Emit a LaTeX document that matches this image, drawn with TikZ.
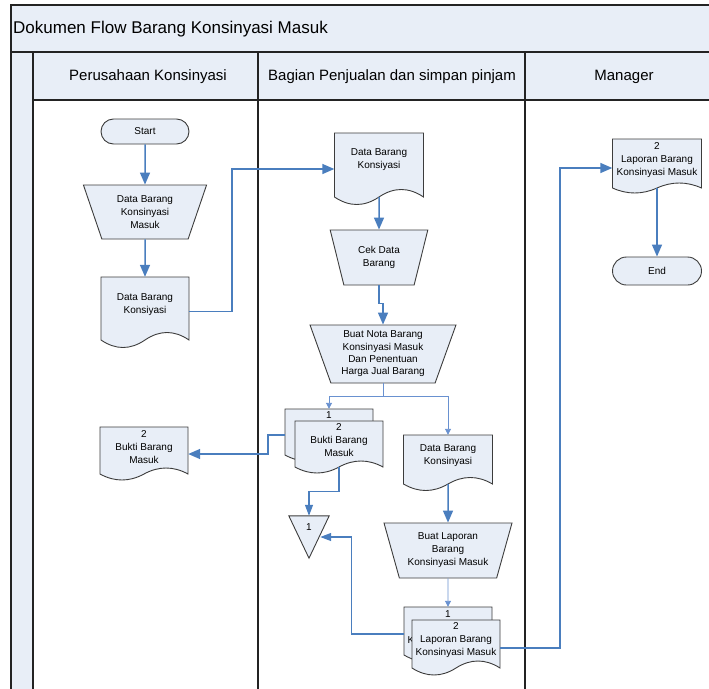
\documentclass[tikz,border=0pt]{standalone}
\usepackage{fontspec}
\setmainfont{Liberation Sans}
\usetikzlibrary{shapes.geometric,arrows.meta}

\definecolor{lanefill}{RGB}{232,238,247}
\definecolor{shapefill}{RGB}{232,238,247}
\definecolor{flowblue}{RGB}{74,126,190}
\definecolor{thinblue}{RGB}{105,145,208}
\definecolor{framegray}{RGB}{35,35,35}
\definecolor{edgegray}{RGB}{60,60,60}

\tikzset{
  frameline/.style={draw=framegray, line width=1.3pt},
  shapeedge/.style={draw=edgegray, line width=0.9pt, fill=shapefill},
  boxtext/.style={font=\fontsize{10}{13}\selectfont, align=center, inner sep=0pt},
  docbody/.style={shapeedge},
  docanchor/.style={rectangle, draw=none, fill=none, inner sep=0pt},
  doctext/.style={boxtext},
  lanehead/.style={font=\fontsize{15}{18}\selectfont, inner sep=0pt},
  terminal/.style={boxtext, shapeedge, rectangle, rounded corners=12.5pt,
    minimum width=88pt, minimum height=25pt},
  manop/.style={boxtext, shapeedge, trapezium, trapezium angle=70,
    shape border rotate=180, trapezium stretches=true},
  tri/.style={rectangle, draw=none, fill=none, inner sep=0pt,
    minimum width=40pt, minimum height=42pt},
  flow/.style={draw=flowblue, line width=1.5pt, -{Triangle[length=12pt,width=10pt]}},
  flowmid/.style={draw=flowblue, line width=1.2pt, -{Triangle[length=11pt,width=8pt]}},
  thinflow/.style={draw=thinblue, line width=0.9pt, -{Triangle[length=6pt,width=6pt]}},
}

% document symbol: flat top, wavy bottom
% #1 text lift, #2 name, #3 centre x, #4 top, #5 width, #6 height to the wave ends,
% #7 wave amplitude, #8 text
\newcommand\docshape[8][3.5]{%
  \path[docbody] ({#3-#5/2},#4) -- ({#3+#5/2},#4) -- ({#3+#5/2},{#4+#6})
    .. controls ({#3+#5/3},{#4+#6-4*#7/3}) and ({#3+#5/6},{#4+#6-4*#7/3}) .. (#3,{#4+#6})
    .. controls ({#3-#5/6},{#4+#6+4*#7/3}) and ({#3-#5/3},{#4+#6+4*#7/3}) .. ({#3-#5/2},{#4+#6})
    -- cycle;
  \node[docanchor, minimum width=#5pt, minimum height=#6pt] (#2) at (#3,{#4+#6/2}) {};
  \node[doctext] (#2-text) at ([yshift=#1pt]#2.center) {#8};
}

\begin{document}
\begin{tikzpicture}[x=1pt,y=-1pt]
\useasboundingbox (0,0) rectangle (709,688);

% swimlane frame
\begin{scope}
  \clip (0,0) rectangle (709,688);
  \fill[lanefill] (11,5) rectangle (723,52);
  \fill[lanefill] (11,52) rectangle (33,700);
  \fill[lanefill] (33,52) rectangle (723,100);
  \draw[frameline] (11,700) -- (11,5) -- (723,5);
  \draw[frameline, line width=2pt] (11,52) -- (723,52);
  \draw[frameline] (33,100) -- (723,100);
  \foreach \lx in {33,258,525} \draw[frameline] (\lx,52) -- (\lx,700);
\end{scope}

\node[font=\fontsize{17}{20}\selectfont, anchor=west, inner sep=0pt] (title) at (13,29)
  {Dokumen Flow Barang Konsinyasi Masuk};
\node[lanehead] (laneA) at (148,77) {Perusahaan Konsinyasi};
\node[lanehead] (laneB) at (392,77) {Bagian Penjualan dan simpan pinjam};
\node[lanehead] (laneC) at (624,77) {Manager};

% Perusahaan Konsinyasi
\node[terminal] (start) at (145,131.5) {Start};
\node[manop, minimum width=124pt, minimum height=54pt] (inp1) at (145,212)
  {Data Barang\\Konsinyasi\\Masuk};
\docshape{doc1}{145}{277}{88}{63}{7.5}{Data Barang\\Konsiyasi}
\docshape{bukti1}{144}{427}{88}{47}{6}{2\\Bukti Barang\\Masuk}

% Bagian Penjualan dan simpan pinjam
\docshape[5.5]{doc2}{379}{133}{89}{64}{7.5}{Data Barang\\Konsiyasi}
\node[manop, minimum width=98pt, minimum height=55pt] (cek) at (379,257.5)
  {Cek Data\\Barang};
\node[manop, minimum width=146pt, minimum height=58pt, font=\fontsize{10}{12.3}\selectfont]
  (nota) at (383,354)
  {Buat Nota Barang\\Konsinyasi Masuk\\Dan Penentuan\\Harga Jual Barang};
\docshape[17]{buktiB}{329}{409}{88}{46}{6}{1}
\docshape{buktiF}{339}{421}{88}{46}{6}{2\\Bukti Barang\\Masuk}
\node[tri] (tri1) at (309,537) {};
\path[shapeedge] (tri1.north west) -- (tri1.north east) -- (tri1.south) -- cycle;
\node[boxtext] (tri1num) at (309,527) {1};
\docshape{doc3}{448}{435}{89}{49}{6.5}{Data Barang\\Konsinyasi}
\node[manop, minimum width=128pt, minimum height=55pt] (buatlap) at (448,550.5)
  {Buat Laporan\\Barang\\Konsinyasi Masuk};
\docshape[2.5]{lapB}{448}{607}{88}{48}{6.5}{1\\Laporan Barang\\Konsinyasi Masuk}
\docshape{lapF}{456}{620}{88}{48}{7}{2\\Laporan Barang\\Konsinyasi Masuk}

% Manager
\docshape{mdoc}{657}{139}{89}{49}{5}{2\\Laporan Barang\\Konsinyasi Masuk}
\node[terminal, minimum width=89pt, minimum height=28pt, rounded corners=14pt]
  (end) at (657,271) {End};

% flow
\draw[flow] (start.south) -- (inp1.north);
\draw[flow] (inp1.south) -- (doc1.north);
\draw[flow] ([yshift=-3pt]doc1.east) -- ++(43,0) |- ([yshift=-4pt]doc2.west);
\draw[flow] (doc2.south) -- (cek.north);
\draw[flow] (cek.south) -- ++(0,18) -| (nota.north);
\draw[thinflow] (nota.south) -- ++(0,13) -| (buktiB.north);
\draw[thinflow] (nota.south) -- ++(0,13) -| (doc3.north);
\draw[flow] ([yshift=-3pt]buktiB.west) -- ++(-17,0) |- ([yshift=-3.5pt]bukti1.east);
\draw[flowmid] (buktiF.south) -- ++(0,24) -| (tri1.north);
\draw[flow] (doc3.south) -- (buatlap.north);
\draw[thinflow] (buatlap.south) -- (lapB.north);
\draw[flowmid] ([yshift=-3pt]lapB.west) -- ++(-52,0) |- ([xshift=-9pt]tri1.east);
\draw[flow] ([yshift=-4pt]lapF.east) -- ++(60,0) |- ([yshift=-4.5pt]mdoc.west);
\draw[flow] (mdoc.south) -- (end.north);
\end{tikzpicture}
\end{document}
